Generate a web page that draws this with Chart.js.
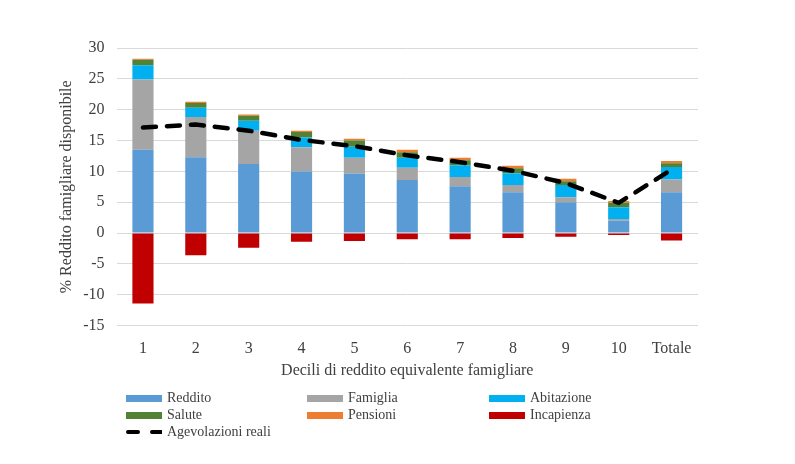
<!DOCTYPE html>
<html><head><meta charset="utf-8">
<script src="https://cdn.jsdelivr.net/npm/chart.js@4/dist/chart.umd.min.js"></script>
<style>
html,body{margin:0;padding:0;background:#fff;}
#wrap{position:relative;width:795px;height:464px;}
#c{position:absolute;left:0;top:0;}
#legend{position:absolute;left:126px;top:390px;width:600px;font-family:"Liberation Serif",serif;font-size:14px;color:#404040;}
.li{position:absolute;display:flex;align-items:center;white-space:nowrap;}
.sw{width:36px;height:7px;margin-right:5px;}
</style></head>
<body><div id="wrap"><canvas id="c" width="795" height="464"></canvas><div id="legend"></div></div>
<script>
const categories = ["1","2","3","4","5","6","7","8","9","10","Totale"];
const reddito     = [13.5, 12.3, 11.2, 10.0, 9.6, 8.6, 7.6, 6.6, 5.0, 2.0, 6.6];
const famiglia    = [11.4, 6.5, 5.4, 3.9, 2.6, 2.0, 1.5, 1.2, 0.8, 0.3, 2.1];
const abitazione  = [2.3, 1.5, 1.6, 1.6, 1.8, 1.6, 1.9, 1.9, 2.0, 1.9, 2.0];
const salute      = [0.9, 0.8, 0.8, 0.9, 1.0, 0.9, 0.8, 0.8, 0.6, 0.7, 0.6];
const pensioni    = [0.15, 0.2, 0.2, 0.2, 0.3, 0.4, 0.4, 0.4, 0.4, 0.3, 0.4];
const incapienza  = [-11.4, -3.6, -2.4, -1.4, -1.3, -1.0, -1.0, -0.8, -0.6, -0.3, -1.2];
const agevolazioni = [17.1, 17.6, 16.6, 15.1, 14.1, 12.6, 11.5, 10.1, 8.1, 4.9, 10.3];
const yTicks = [-15,-10,-5,0,5,10,15,20,25,30];

const font = "'Liberation Serif', serif";
const txt = "#404040";
function bar(label, data, color){
  return {type:'bar', label, data, backgroundColor:color, stack:'s', categoryPercentage:1, barPercentage:0.4, order:2};
}
const chart = new Chart(document.getElementById('c'), {
  data: {
    labels: categories,
    datasets: [
      bar('Reddito', reddito, '#5b9bd5'),
      bar('Famiglia', famiglia, '#a5a5a5'),
      bar('Abitazione', abitazione, '#00b0f0'),
      bar('Salute', salute, '#548235'),
      bar('Pensioni', pensioni, '#ed7d31'),
      bar('Incapienza', incapienza, '#c00000'),
      {type:'line', label:'Agevolazioni reali', data:agevolazioni, borderColor:'#000', borderWidth:4.5,
       borderDash:[13,11], pointRadius:0, fill:false, tension:0, order:1, borderCapStyle:'round'}
    ]
  },
  options: {
    responsive:false, animation:false,
    layout:{padding:{left:57, right:97, top:48, bottom:84}},
    plugins:{legend:{display:false}, tooltip:{enabled:false}},
    scales:{
      x:{stacked:true, grid:{display:false}, border:{display:false},
         ticks:{color:txt, font:{family:font, size:16}, padding:6},
         title:{display:true, text:'Decili di reddito equivalente famigliare', color:txt, font:{family:font, size:16}, padding:{top:-4, bottom:0}}},
      y:{stacked:true, min:-15, max:30,
         afterBuildTicks: ax => { ax.ticks = yTicks.map(v=>({value:v})); },
         grid:{color:'#d9d9d9', drawTicks:false}, border:{display:false},
         ticks:{color:txt, font:{family:font, size:16}, padding:12},
         title:{display:true, text:'% Reddito famigliare disponibile', color:txt, font:{family:font, size:16}, padding:{top:0, bottom:-5}}}
    }
  }
});
// HTML legend built from the chart datasets
const pos = [[0,0],[181,0],[363,0],[0,17],[181,17],[363,17],[0,34]];
const lg = document.getElementById('legend');
chart.data.datasets.forEach((ds,i)=>{
  const d = document.createElement('div'); d.className='li';
  d.style.left = pos[i][0]+'px'; d.style.top = pos[i][1]+'px';
  let sw;
  if (ds.type==='line'){
    sw = '<svg width="36" height="8" style="margin-right:5px"><line x1="2" y1="4" x2="36" y2="4" stroke="#000" stroke-width="4" stroke-dasharray="10,14" stroke-linecap="round"/></svg>';
  } else {
    sw = '<div class="sw" style="background:'+ds.backgroundColor+'"></div>';
  }
  d.innerHTML = sw + '<span>'+ds.label+'</span>';
  lg.appendChild(d);
});
</script></body></html>
